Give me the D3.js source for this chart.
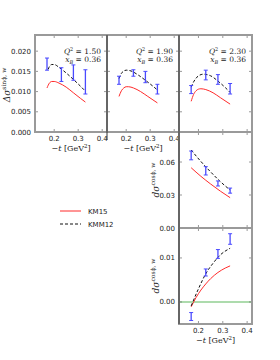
<!DOCTYPE html>
<html>
<head>
<meta charset="utf-8">
<script src="https://cdn.jsdelivr.net/npm/d3@7"></script>
<style>
body { margin: 0; background: #fff; }
svg { display: block; }
</style>
</head>
<body>
<svg id="chart" width="280" height="360"></svg>
<script>
// -t bins of the data points
var tBins = [0.17, 0.23, 0.28, 0.33];
var q2Labels = ["1.50", "1.90", "2.30"];
var xbLabel = "0.36";
var xTicks = [0.2, 0.3, 0.4];

// sin phi asymmetry, three Q2 bins
var sinVal1 = [0.0168, 0.0142, 0.0147, 0.0124];
var sinErr1 = [0.0015, 0.0017, 0.0019, 0.0030];
var sinVal2 = [0.0128, 0.0146, 0.0136, 0.0106];
var sinErr2 = [0.0010, 0.0008, 0.0014, 0.0012];
var sinVal3 = [0.0105, 0.0141, 0.0130, 0.0107];
var sinErr3 = [0.0010, 0.0012, 0.0012, 0.0013];

var sinKmT1 = [0.17, 0.18, 0.19, 0.20, 0.22, 0.25, 0.28, 0.31, 0.33];
var sinKm1 = [0.0109, 0.0121, 0.0125, 0.0125, 0.0121, 0.0111, 0.0097, 0.0083, 0.0074];
var sinKmmT1 = [0.175, 0.18, 0.19, 0.20, 0.22, 0.25, 0.28, 0.31, 0.33];
var sinKmm1 = [0.0155, 0.0162, 0.0167, 0.0167, 0.0160, 0.0146, 0.0130, 0.0113, 0.0101];

var sinKmT2 = [0.17, 0.18, 0.19, 0.20, 0.21, 0.23, 0.26, 0.29, 0.33];
var sinKm2 = [0.0088, 0.0102, 0.0109, 0.0112, 0.0112, 0.0109, 0.0100, 0.0088, 0.0072];
var sinKmmT2 = [0.17, 0.18, 0.19, 0.20, 0.22, 0.25, 0.28, 0.31, 0.33];
var sinKmm2 = [0.0132, 0.0145, 0.0151, 0.0153, 0.0151, 0.0141, 0.0128, 0.0114, 0.0104];

var sinKmT3 = [0.17, 0.18, 0.19, 0.20, 0.21, 0.23, 0.26, 0.29, 0.33];
var sinKm3 = [0.0076, 0.0093, 0.0102, 0.0106, 0.0107, 0.0105, 0.0097, 0.0085, 0.0069];
var sinKmmT3 = [0.17, 0.18, 0.19, 0.20, 0.22, 0.25, 0.28, 0.31, 0.33];
var sinKmm3 = [0.0111, 0.0124, 0.0133, 0.0139, 0.0143, 0.0139, 0.0126, 0.0110, 0.0098];

// cos phi, unpolarized
var cos0Val = [0.066, 0.052, 0.0405, 0.034];
var cos0Err = [0.004, 0.0038, 0.0023, 0.0023];
var cos0KmT = [0.17, 0.21, 0.25, 0.29, 0.33];
var cos0Km = [0.0548, 0.0470, 0.0400, 0.0335, 0.0276];
var cos0KmmT = [0.17, 0.21, 0.25, 0.29, 0.33];
var cos0Kmm = [0.0709, 0.0605, 0.0510, 0.0422, 0.0345];

// cos phi, second
var cos1Val = [-0.0033, 0.0067, 0.0109, 0.0143];
var cos1Err = [0.0009, 0.0008, 0.0010, 0.0012];
var cos1KmT = [0.17, 0.19, 0.21, 0.23, 0.25, 0.28, 0.31, 0.33];
var cos1Km = [-0.0011, 0.0010, 0.0027, 0.0041, 0.0053, 0.0067, 0.0077, 0.0082];
var cos1KmmT = [0.17, 0.20, 0.23, 0.26, 0.29, 0.33];
var cos1Kmm = [-0.0009, 0.0030, 0.0064, 0.0088, 0.0107, 0.0122];

var red = "#ff2b2b";
var blue = "#4a4aff";
var gray = "#9a9a9a";

var svg = d3.select("#chart");

function zip(ts, vs) {
    return ts.map(function (t, i) { return [t, vs[i]]; });
}

var panels = [
    {x0: 35, x1: 107, y0: 35, y1: 132, yd: [0, 0.024], yt: [0, 0.005, 0.01, 0.015, 0.02], fmt: ".3f",
     ylab: true, xlab: true, val: sinVal1, err: sinErr1, km: zip(sinKmT1, sinKm1), kmm: zip(sinKmmT1, sinKmm1), q2: q2Labels[0]},
    {x0: 107, x1: 179, y0: 35, y1: 132, yd: [0, 0.024], yt: [0, 0.005, 0.01, 0.015, 0.02], fmt: ".3f",
     ylab: false, xlab: true, val: sinVal2, err: sinErr2, km: zip(sinKmT2, sinKm2), kmm: zip(sinKmmT2, sinKmm2), q2: q2Labels[1]},
    {x0: 179, x1: 252, y0: 35, y1: 132, yd: [0, 0.024], yt: [0, 0.005, 0.01, 0.015, 0.02], fmt: ".3f",
     ylab: false, xlab: false, val: sinVal3, err: sinErr3, km: zip(sinKmT3, sinKm3), kmm: zip(sinKmmT3, sinKmm3), q2: q2Labels[2]},
    {x0: 179, x1: 252, y0: 132, y1: 228, yd: [0, 0.0873], yt: [0, 0.03, 0.06], fmt: ".2f",
     ylab: true, xlab: false, val: cos0Val, err: cos0Err, km: zip(cos0KmT, cos0Km), kmm: zip(cos0KmmT, cos0Kmm)},
    {x0: 179, x1: 252, y0: 228, y1: 324, yd: [-0.005, 0.0168], yt: [0, 0.01], fmt: ".2f",
     ylab: true, xlab: true, val: cos1Val, err: cos1Err, km: zip(cos1KmT, cos1Km), kmm: zip(cos1KmmT, cos1Kmm), zero: true}
];

panels.forEach(function (p) {
    var x = d3.scaleLinear().domain([0.12, 0.42]).range([p.x0, p.x1]);
    var y = d3.scaleLinear().domain(p.yd).range([p.y1, p.y0]);
    var g = svg.append("g");

    if (p.zero) {
        g.append("line")
            .attr("x1", p.x0).attr("x2", p.x1)
            .attr("y1", y(0)).attr("y2", y(0))
            .attr("stroke", "#5cb85c").attr("stroke-width", 1.2);
    }

    var line = d3.line()
        .x(function (d) { return x(d[0]); })
        .y(function (d) { return y(d[1]); })
        .curve(d3.curveMonotoneX);

    g.append("path").attr("d", line(p.km))
        .attr("fill", "none").attr("stroke", red).attr("stroke-width", 1);
    g.append("path").attr("d", line(p.kmm))
        .attr("fill", "none").attr("stroke", "#111").attr("stroke-width", 1)
        .attr("stroke-dasharray", "3,2");

    // error bars
    tBins.forEach(function (t, i) {
        var lo = y(p.val[i] - p.err[i]), hi = y(p.val[i] + p.err[i]), cx = x(t);
        g.append("line").attr("x1", cx).attr("x2", cx).attr("y1", lo).attr("y2", hi)
            .attr("stroke", blue).attr("stroke-width", 1.3);
        [lo, hi].forEach(function (yy) {
            g.append("line").attr("x1", cx - 2).attr("x2", cx + 2).attr("y1", yy).attr("y2", yy)
                .attr("stroke", blue).attr("stroke-width", 1);
        });
    });

    // ticks
    xTicks.forEach(function (t) {
        g.append("line").attr("x1", x(t)).attr("x2", x(t)).attr("y1", p.y1).attr("y2", p.y1 - 3)
            .attr("stroke", "#555").attr("stroke-width", 0.6);
        g.append("line").attr("x1", x(t)).attr("x2", x(t)).attr("y1", p.y0).attr("y2", p.y0 + 3)
            .attr("stroke", "#555").attr("stroke-width", 0.6);
        if (p.xlab) {
            g.append("text").attr("x", x(t)).attr("y", p.y1 + 9)
                .attr("text-anchor", "middle").attr("font-family", "DejaVu Sans")
                .attr("font-size", 7).attr("fill", "#222").text(d3.format(".1f")(t));
        }
    });
    p.yt.forEach(function (v) {
        g.append("line").attr("x1", p.x0).attr("x2", p.x0 + 3).attr("y1", y(v)).attr("y2", y(v))
            .attr("stroke", "#555").attr("stroke-width", 0.6);
        g.append("line").attr("x1", p.x1).attr("x2", p.x1 - 3).attr("y1", y(v)).attr("y2", y(v))
            .attr("stroke", "#555").attr("stroke-width", 0.6);
        if (p.ylab) {
            g.append("text").attr("x", p.x0 - 4).attr("y", y(v) + 2.5)
                .attr("text-anchor", "end").attr("font-family", "DejaVu Sans")
                .attr("font-size", 7).attr("fill", "#222").text(d3.format(p.fmt)(v));
        }
    });

    // frame
    g.append("rect").attr("x", p.x0).attr("y", p.y0)
        .attr("width", p.x1 - p.x0).attr("height", p.y1 - p.y0)
        .attr("fill", "none").attr("stroke", gray).attr("stroke-width", 2);

    if (p.xlab) {
        var xl = g.append("text").attr("x", (p.x0 + p.x1) / 2).attr("y", p.y1 + 19)
            .attr("text-anchor", "middle").attr("font-family", "DejaVu Serif")
            .attr("font-size", 8).attr("fill", "#222");
        xl.append("tspan").text("\u2212");
        xl.append("tspan").attr("font-style", "italic").text("t");
        xl.append("tspan").text(" [GeV");
        xl.append("tspan").attr("font-size", 5.5).attr("dy", -3).text("2");
        xl.append("tspan").attr("dy", 3).text("]");
    }

    if (p.q2) {
        var t1 = g.append("text").attr("x", p.x1 - 6).attr("y", p.y0 + 19)
            .attr("text-anchor", "end").attr("font-family", "DejaVu Serif")
            .attr("font-size", 7.5).attr("fill", "#222");
        t1.append("tspan").attr("font-style", "italic").text("Q");
        t1.append("tspan").attr("font-size", 5).attr("dy", -3).text("2");
        t1.append("tspan").attr("dy", 3).text(" = " + p.q2);
        var t2 = g.append("text").attr("x", p.x1 - 6).attr("y", p.y0 + 27)
            .attr("text-anchor", "end").attr("font-family", "DejaVu Serif")
            .attr("font-size", 7.5).attr("fill", "#222");
        t2.append("tspan").attr("font-style", "italic").text("x");
        t2.append("tspan").attr("font-style", "italic").attr("font-size", 5).attr("dy", 1.5).text("B");
        t2.append("tspan").attr("dy", -1.5).text(" = " + xbLabel);
    }
});

// dark inner spines
svg.append("line").attr("x1", 107).attr("x2", 107).attr("y1", 35).attr("y2", 140)
    .attr("stroke", "#333").attr("stroke-width", 1);
svg.append("line").attr("x1", 179).attr("x2", 179).attr("y1", 35).attr("y2", 324)
    .attr("stroke", "#333").attr("stroke-width", 1);

// y labels
function yLabel(cx, cy, main, sup) {
    var t = svg.append("text")
        .attr("transform", "translate(" + cx + "," + cy + ") rotate(-90)")
        .attr("text-anchor", "middle").attr("font-family", "DejaVu Serif")
        .attr("font-size", 9).attr("fill", "#222");
    t.append("tspan").attr("font-style", "italic").text(main);
    t.append("tspan").attr("font-size", 6).attr("dy", -4).text(sup);
}
yLabel(10, 85, "\u0394\u03c3", "sin\u03d5, w");
yLabel(159, 180, "d\u03c3", "cos\u03d5, w");
yLabel(159, 276, "d\u03c3", "cos\u03d5, w");

// legend
var legend = [
    {name: "KM15", color: red, dash: null},
    {name: "KMM12", color: "#111", dash: "3,2"}
];
legend.forEach(function (d, i) {
    var ly = 211 + i * 13;
    svg.append("line").attr("x1", 60).attr("x2", 81).attr("y1", ly).attr("y2", ly)
        .attr("stroke", d.color).attr("stroke-width", 1)
        .attr("stroke-dasharray", d.dash);
    svg.append("text").attr("x", 88).attr("y", ly + 2.5)
        .attr("font-family", "DejaVu Sans").attr("font-size", 7).attr("fill", "#222")
        .text(d.name);
});
</script>
</body>
</html>
